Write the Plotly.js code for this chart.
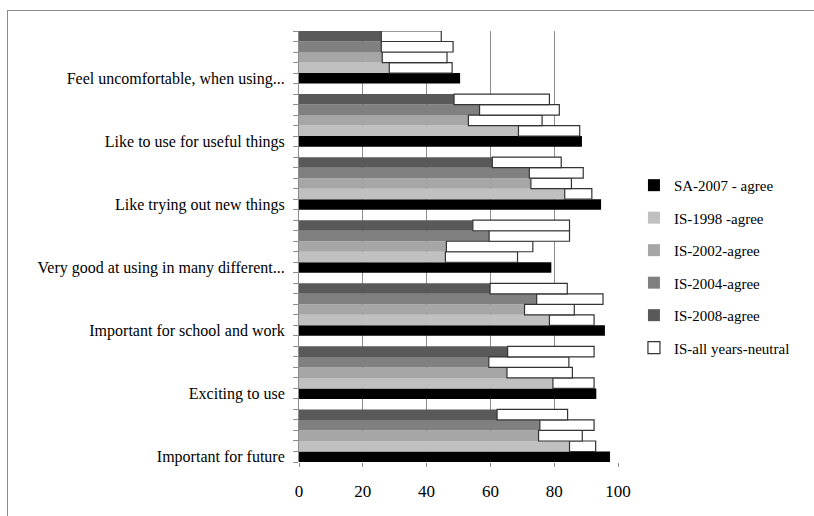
<!DOCTYPE html>
<html>
<head>
<meta charset="utf-8">
<script src="https://cdn.plot.ly/plotly-3.0.1.min.js"></script>
<style>
  html, body { margin: 0; padding: 0; background: #fff; }
  #wrap { position: relative; width: 814px; height: 516px; overflow: hidden; }
  #chart { position: absolute; left: 0; top: 0; width: 814px; height: 516px; }
  #frame { position: absolute; left: 7px; top: 10px; width: 900px; height: 600px;
           border-left: 1.5px solid #8c8c8c; border-top: 1.5px solid #8c8c8c; pointer-events: none; }
</style>
</head>
<body>
<div id="wrap">
  <div id="chart"></div>
  <div id="frame"></div>
</div>
<script>
// Categories listed bottom to top
const categories = [
  "Important for future",
  "Exciting to use",
  "Important for school and work",
  "Very good at using in many different...",
  "Like trying out new things",
  "Like to use for useful things",
  "Feel uncomfortable, when using..."
];
const seriesNames = ["SA-2007 - agree", "IS-1998 -agree", "IS-2002-agree", "IS-2004-agree", "IS-2008-agree"];
const neutralName = "IS-all years-neutral";

const sa2007Agree = [97.5, 93.2, 95.9, 79.1, 94.7, 88.7, 50.5];
const is1998Agree = [84.8, 79.6, 78.5, 45.9, 83.3, 68.8, 28.3];
const is2002Agree = [75.1, 65.2, 70.7, 46.2, 72.7, 53.1, 26.1];
const is2004Agree = [75.5, 59.5, 74.5, 59.6, 72.2, 56.6, 25.8];
const is2008Agree = [62.1, 65.4, 59.9, 54.5, 60.6, 48.6, 25.8];

const is1998Neutral = [8.2, 12.9, 14.0, 22.6, 8.5, 19.2, 19.7];
const is2002Neutral = [13.7, 20.5, 15.6, 27.1, 12.7, 23.1, 20.3];
const is2004Neutral = [17.0, 25.1, 20.8, 25.2, 16.9, 25.0, 22.5];
const is2008Neutral = [22.1, 27.1, 24.2, 30.3, 21.6, 29.9, 18.8];

const xTicks = [0, 20, 40, 60, 80, 100];

const agreeSeries = [sa2007Agree, is1998Agree, is2002Agree, is2004Agree, is2008Agree];
const neutralSeries = [null, is1998Neutral, is2002Neutral, is2004Neutral, is2008Neutral];
const colors = ["#000000", "#c0c0c0", "#a6a6a6", "#808080", "#595959"];

const slotsPerGroup = 6;
const pos = (g, k) => g * slotsPerGroup + k;

const traces = [];
agreeSeries.forEach((vals, k) => {
  traces.push({
    type: "bar", orientation: "h",
    name: seriesNames[k], legendgroup: "g" + k,
    x: vals,
    y: vals.map((_, g) => pos(g, k)),
    width: 1,
    marker: { color: colors[k], line: { width: 0 } },
    hoverinfo: "x+name"
  });
});

// neutral (stacked on each IS agree bar)
const nx = [], ny = [], nb = [];
for (let k = 1; k < 5; k++) {
  neutralSeries[k].forEach((v, g) => {
    nx.push(v); ny.push(pos(g, k)); nb.push(agreeSeries[k][g]);
  });
}
traces.push({
  type: "bar", orientation: "h",
  name: neutralName, legendgroup: "gn",
  x: nx, y: ny, base: nb, width: 1,
  marker: { color: "#ffffff", line: { color: "#333333", width: 1.2 } },
  hoverinfo: "x+name"
});

const serif = "Liberation Serif, Times New Roman, serif";

const layout = {
  width: 814, height: 516,
  margin: { l: 299, r: 196, t: 31, b: 54, pad: 0 },
  paper_bgcolor: "#ffffff", plot_bgcolor: "#ffffff",
  barmode: "overlay",
  showlegend: true,
  font: { family: serif, color: "#000000" },
  xaxis: {
    range: [0, 100],
    tickvals: xTicks,
    ticktext: xTicks.map(String),
    showgrid: true, gridcolor: "#8c8c8c", gridwidth: 1,
    zeroline: false, showline: false,
    ticks: "outside", ticklen: 4, tickcolor: "#8c8c8c",
    ticklabelstandoff: 10,
    tickfont: { family: serif, size: 17, color: "#000" }
  },
  yaxis: {
    range: [-0.5, (categories.length - 1) * slotsPerGroup + 4.5],
    tickmode: "array",
    tickvals: categories.map((_, g) => pos(g, 0)),
    ticktext: categories,
    ticks: "",
    showgrid: false, zeroline: false,
    showline: true, linecolor: "#8c8c8c", linewidth: 1,
    ticklabelstandoff: 10,
    tickfont: { family: serif, size: 16, color: "#000" },
    minor: { tickmode: "linear", tick0: 0.5, dtick: 1, ticks: "outside", ticklen: 5, tickcolor: "#8c8c8c", showgrid: false }
  },
  legend: {
    x: 1.05, xanchor: "left",
    y: 0.68, yanchor: "top",
    font: { family: serif, size: 15, color: "#000" },
    tracegroupgap: 10,
    bgcolor: "rgba(0,0,0,0)",
    itemwidth: 30
  }
};

Plotly.newPlot("chart", traces, layout, { staticPlot: true, displayModeBar: false });
</script>
</body>
</html>
